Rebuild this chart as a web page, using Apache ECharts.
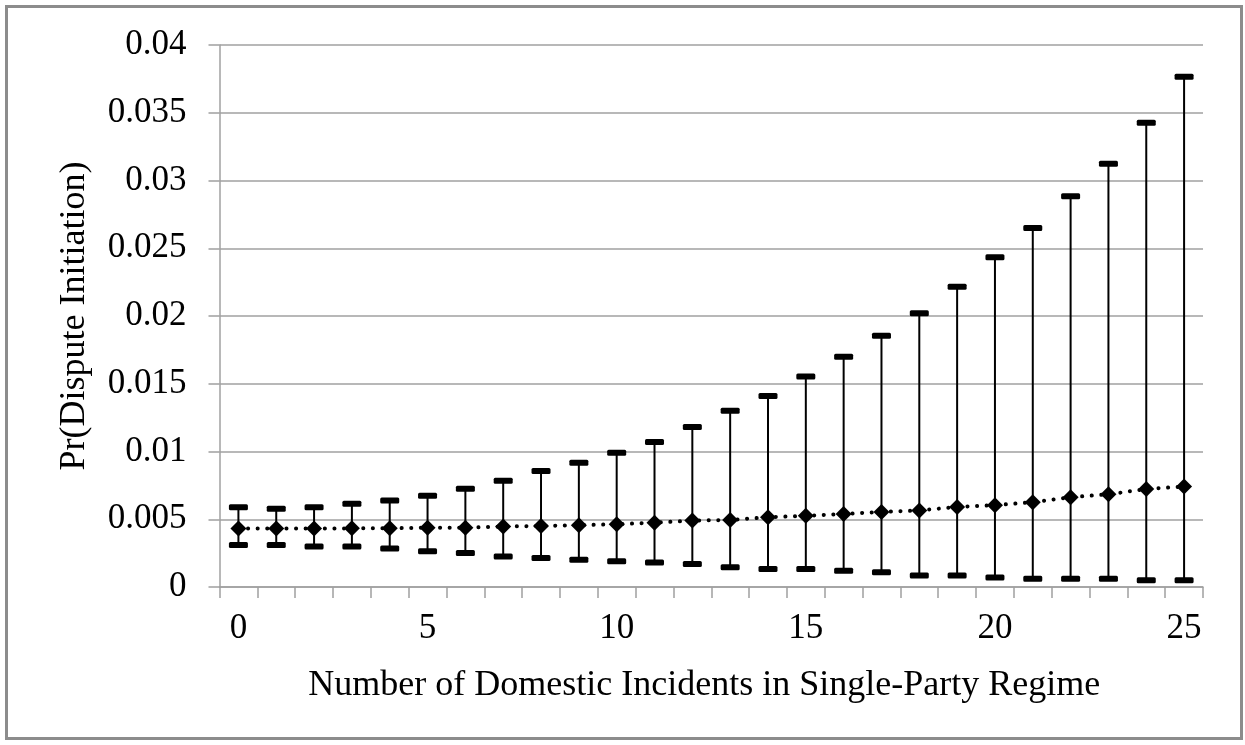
<!DOCTYPE html>
<html>
<head>
<meta charset="utf-8">
<script src="https://cdn.jsdelivr.net/npm/echarts@6/dist/echarts.min.js"></script>
<style>
  html, body { margin: 0; padding: 0; background: #fff; }
  #chart { width: 1245px; height: 745px; }
</style>
</head>
<body>
<div id="chart"></div>
<script>
// Number of domestic incidents (x categories)
const incidents = ['0','1','2','3','4','5','6','7','8','9','10','11','12','13','14','15','16','17','18','19','20','21','22','23','24','25'];

// Predicted probability of dispute initiation
const meanProb = [
  0.00431, 0.00431, 0.00431, 0.00433, 0.00433, 0.00438, 0.00438, 0.00446, 0.00451, 0.00456,
  0.00463, 0.00475, 0.00490, 0.00495, 0.00515, 0.00525, 0.00539, 0.00554, 0.00565, 0.00591,
  0.00604, 0.00626, 0.00663, 0.00684, 0.00723, 0.00742
];

// Upper confidence bound
const upperProb = [
  0.00589, 0.00577, 0.00589, 0.00614, 0.00638, 0.00673, 0.00725, 0.00784, 0.00856, 0.00917,
  0.00990, 0.01071, 0.01181, 0.01301, 0.01409, 0.01554, 0.01699, 0.01855, 0.02020, 0.02215,
  0.02434, 0.02650, 0.02883, 0.03124, 0.03427, 0.03765
];

// Lower confidence bound
const lowerProb = [
  0.00310, 0.00310, 0.00298, 0.00298, 0.00285, 0.00263, 0.00251, 0.00226, 0.00214, 0.00201,
  0.00190, 0.00181, 0.00169, 0.00145, 0.00132, 0.00132, 0.00120, 0.00108, 0.00084, 0.00084,
  0.00071, 0.00060, 0.00060, 0.00060, 0.00050, 0.00050
];

// Y axis tick labels
const yTickLabels = ['0','0.005','0.01','0.015','0.02','0.025','0.03','0.035','0.04'];

const FONT = '"Liberation Serif", "Times New Roman", serif';
const GRAY = '#a0a0a0';

const chart = echarts.init(document.getElementById('chart'), null, { renderer: 'canvas' });

const barData = incidents.map((c, i) => [i, lowerProb[i], upperProb[i]]);

// Vertical whisker with a thick cap at each end
function renderErrorBar(params, api) {
  const idx = api.value(0);
  const lo = api.coord([idx, api.value(1)]);
  const hi = api.coord([idx, api.value(2)]);
  const capW = 19, capH = 6;
  return {
    type: 'group',
    children: [
      { type: 'line', shape: { x1: hi[0], y1: hi[1], x2: lo[0], y2: lo[1] },
        style: { stroke: '#000', lineWidth: 2 } },
      { type: 'rect', shape: { x: hi[0] - capW / 2, y: hi[1] - capH / 2, width: capW, height: capH, r: 1.5 },
        style: { fill: '#000' } },
      { type: 'rect', shape: { x: lo[0] - capW / 2, y: lo[1] - capH / 2, width: capW, height: capH, r: 1.5 },
        style: { fill: '#000' } }
    ]
  };
}

chart.setOption({
  animation: false,
  backgroundColor: '#fff',
  graphic: [{
    type: 'rect',
    shape: { x: 6.5, y: 6.5, width: 1235, height: 732 },
    style: { fill: 'none', stroke: '#8c8c8c', lineWidth: 3 },
    z: -1
  }],
  grid: { left: 219.5, right: 42, top: 45, bottom: 158 },
  xAxis: {
    type: 'category',
    data: incidents,
    boundaryGap: true,
    name: 'Number of Domestic Incidents in Single-Party Regime',
    nameLocation: 'middle',
    nameGap: 81,
    nameTextStyle: { fontFamily: FONT, fontSize: 36, color: '#000', padding: [0, 14, 0, 0] },
    axisLine: { lineStyle: { color: GRAY, width: 1.5 } },
    axisTick: { show: true, interval: 0, length: 11, alignWithLabel: false, lineStyle: { color: GRAY, width: 1.5 } },
    axisLabel: { interval: 4, margin: 24, fontFamily: FONT, fontSize: 35, color: '#000' },
    splitLine: { show: false }
  },
  yAxis: {
    type: 'value',
    min: 0,
    max: 0.04,
    interval: 0.005,
    name: 'Pr(Dispute Initiation)',
    nameLocation: 'middle',
    nameGap: 127,
    nameTextStyle: { fontFamily: FONT, fontSize: 36, color: '#000' },
    axisLine: { show: true, lineStyle: { color: GRAY, width: 1.5 } },
    axisTick: { show: true, length: 11, lineStyle: { color: GRAY, width: 1.5 } },
    axisLabel: {
      margin: 33, fontFamily: FONT, fontSize: 35, color: '#000',
      formatter: v => yTickLabels[Math.round(v / 0.005)]
    },
    splitLine: { show: true, lineStyle: { color: GRAY, width: 1.5 } }
  },
  series: [
    {
      type: 'custom',
      renderItem: renderErrorBar,
      data: barData,
      encode: { x: 0, y: [1, 2] },
      z: 2
    },
    {
      type: 'line',
      data: meanProb,
      symbol: 'diamond',
      symbolSize: [16, 16],
      itemStyle: { color: '#000' },
      lineStyle: { color: '#000', width: 4, type: [0.1, 9.5], cap: 'round' },
      z: 3
    }
  ]
});
</script>
</body>
</html>
